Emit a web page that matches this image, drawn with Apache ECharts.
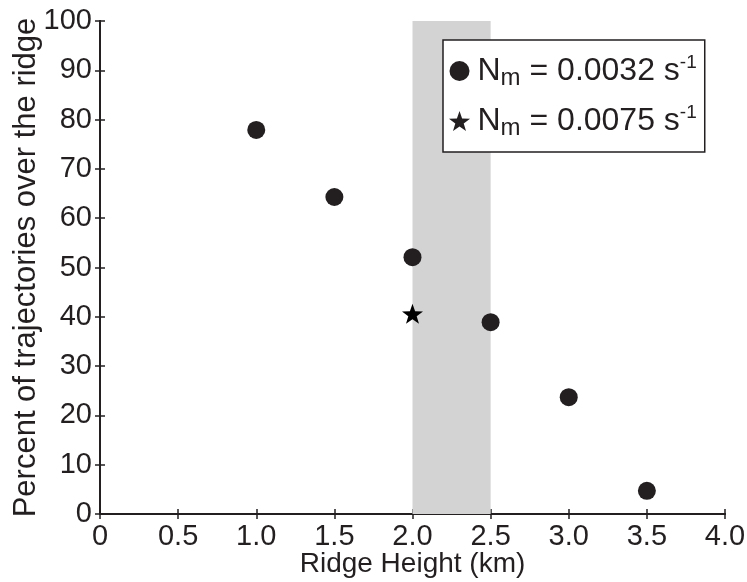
<!DOCTYPE html>
<html>
<head>
<meta charset="utf-8">
<script src="https://cdn.jsdelivr.net/npm/echarts@6/dist/echarts.min.js"></script>
<style>
  html, body { margin: 0; padding: 0; background: #fff; }
  #chart { width: 747px; height: 582px; }
</style>
</head>
<body>
<div id="chart"></div>
<script>
// Ridge heights (km) and percent of trajectories crossing the ridge
const ridgeHeights = [1.0, 1.5, 2.0, 2.5, 3.0, 3.5];
const percentLowN = [77.9, 64.3, 52.1, 38.9, 23.7, 4.7];   // N_m = 0.0032 s^-1
const starHeights = [2.0];
const percentHighN = [40.6];                            // N_m = 0.0075 s^-1
const shadedRange = [2.0, 2.5];
const xTicks = [0, 0.5, 1.0, 1.5, 2.0, 2.5, 3.0, 3.5, 4.0];
const yTicks = [0, 10, 20, 30, 40, 50, 60, 70, 80, 90, 100];

const ink = '#231f20';
const font = 'Liberation Sans, Arial, sans-serif';
const starPath = 'path://M0,-10L2.35,-3.24L9.51,-3.09L3.8,1.24L5.88,8.09L0,4L-5.88,8.09L-3.8,1.24L-9.51,-3.09L-2.35,-3.24Z';

const chart = echarts.init(document.getElementById('chart'), null, { renderer: 'canvas' });

const axisLine = { show: true, lineStyle: { color: ink, width: 2 } };
const axisTick = { show: true, inside: true, length: 5, lineStyle: { color: ink, width: 1.5 } };

const legendRich = {
  n: { fontSize: 32, color: ink, fontFamily: font, lineHeight: 36 },
  sub: { fontSize: 24, color: ink, fontFamily: font, lineHeight: 36, padding: [14, 0, 0, 0] },
  sup: { fontSize: 19, color: ink, fontFamily: font, lineHeight: 36, padding: [0, 0, 16, 0] }
};

chart.setOption({
  animation: false,
  backgroundColor: '#fff',
  grid: { left: 100, right: 22, top: 21, bottom: 68, containLabel: false, outerBoundsMode: 'none' },
  legend: {
    orient: 'vertical',
    left: 443,
    top: 40,
    padding: [12, 8, 12, 6],
    itemGap: 12,
    itemWidth: 26,
    itemHeight: 20,
    itemStyle: { color: ink },
    borderColor: ink,
    borderWidth: 1.5,
    borderRadius: 0,
    backgroundColor: '#fff',
    data: ['low', 'high'],
    formatter: function (name) {
      const v = name === 'low' ? '0.0032' : '0.0075';
      return '{n|N}{sub|m}{n| = ' + v + ' s}{sup|-1}';
    },
    textStyle: { rich: legendRich, color: ink, fontFamily: font }
  },
  xAxis: [{
    type: 'value',
    min: 0, max: 4, interval: 0.5,
    name: 'Ridge Height (km)',
    nameLocation: 'middle',
    nameGap: 36,
    nameMoveOverlap: false,
    nameTextStyle: { fontSize: 28, color: ink, fontFamily: font },
    axisLine: axisLine,
    axisTick: axisTick,
    splitLine: { show: false },
    axisLabel: {
      fontSize: 29, color: ink, fontFamily: font, margin: 8,
      formatter: function (v) { return xTicks.indexOf(v) >= 0 ? (v === 0 ? '0' : v.toFixed(1)) : ''; }
    }
  }, {
    type: 'value', position: 'top',
    min: 0, max: 4, interval: 0.5,
    axisLine: axisLine, axisTick: axisTick,
    axisLabel: { show: false }, splitLine: { show: false }
  }],
  yAxis: [{
    type: 'value',
    min: 0, max: 100, interval: 10,
    name: 'Percent of trajectories over the ridge',
    nameLocation: 'middle',
    nameGap: 58,
    nameMoveOverlap: false,
    nameTextStyle: { fontSize: 31, color: ink, fontFamily: font },
    axisLine: axisLine,
    axisTick: axisTick,
    splitLine: { show: false },
    axisLabel: {
      fontSize: 29, color: ink, fontFamily: font, margin: 8,
      formatter: function (v) { return yTicks.indexOf(v) >= 0 ? String(v) : ''; }
    }
  }, {
    type: 'value', position: 'right',
    min: 0, max: 100, interval: 10,
    axisLine: axisLine, axisTick: axisTick,
    axisLabel: { show: false }, splitLine: { show: false }
  }],
  series: [{
    name: 'low',
    type: 'scatter',
    symbol: 'circle',
    symbolSize: 18,
    itemStyle: { color: ink, opacity: 1 },
    data: ridgeHeights.map((h, i) => [h, percentLowN[i]]),
    markArea: {
      silent: true,
      itemStyle: { color: '#d3d3d3', opacity: 1 },
      data: [[{ xAxis: shadedRange[0] }, { xAxis: shadedRange[1] }]],
      z: 1
    },
    z: 3
  }, {
    name: 'high',
    type: 'scatter',
    symbol: starPath,
    symbolSize: 21,
    symbolKeepAspect: true,
    itemStyle: { color: '#000', opacity: 1 },
    data: starHeights.map((h, i) => [h, percentHighN[i]]),
    z: 3
  }]
});
</script>
</body>
</html>
